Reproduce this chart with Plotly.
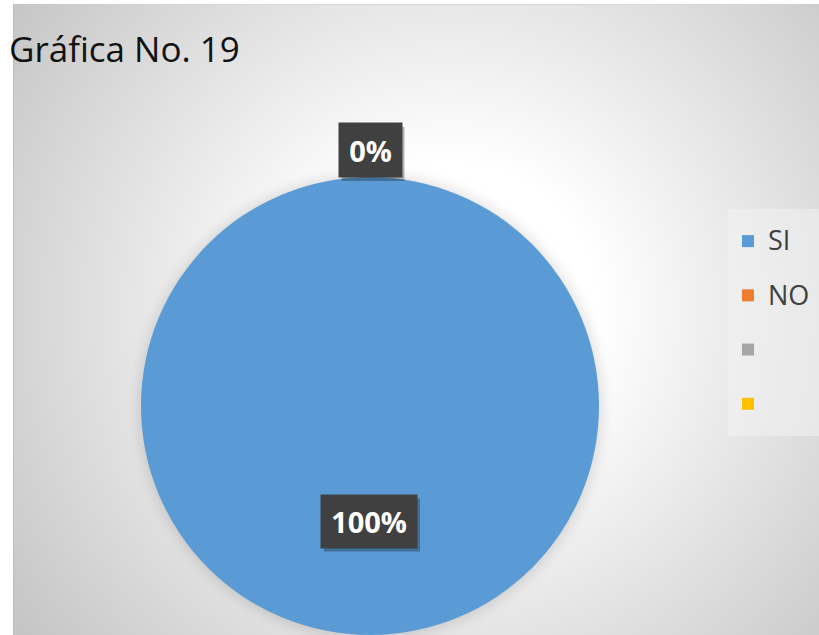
import zlib, struct, base64
import numpy as np
import plotly.graph_objects as go

# ---- data ----
categories = ["SI", "NO", "", ""]
values = [100, 0, 0, 0]
colors = ["#5b9bd5", "#ed7d31", "#a5a5a5", "#ffc000"]
title_text = "Gráfica No. 19"

W, H = 819, 635

# ---- background (radial gradient + soft pie shadow) as an inline PNG ----
bx0, by0 = 13, 4
bw, bh = W - bx0, H - by0
yy, xx = np.mgrid[0:bh, 0:bw].astype(float)
xx += bx0
yy += by0
gx, gy = 450.0, 310.0
d = np.hypot(xx - gx, yy - gy)
frac = np.clip((d - 150) / 390.0, 0, 1)
g = 255 - frac * 58
# pie shadow
pcx, pcy, pr = 370.0, 406.0, 229.0
dp = np.hypot(xx - pcx, yy - pcy) - pr
sh = np.clip(1 - (dp + 2) / 17.0, 0, 1) ** 1.6 * 24
g = g - sh
g[:, 0] = 190
g[0, :] = np.minimum(g[0, :], 215)
arr = np.clip(g, 0, 255).astype(np.uint8)


def png_gray(a):
    h, w = a.shape
    raw = b"".join(b"\x00" + a[i].tobytes() for i in range(h))

    def chunk(t, dd):
        c = struct.pack(">I", len(dd)) + t + dd
        return c + struct.pack(">I", zlib.crc32(t + dd) & 0xFFFFFFFF)

    return (b"\x89PNG\r\n\x1a\n"
            + chunk(b"IHDR", struct.pack(">IIBBBBB", w, h, 8, 0, 0, 0, 0))
            + chunk(b"IDAT", zlib.compress(raw, 9))
            + chunk(b"IEND", b""))


bg_src = "data:image/png;base64," + base64.b64encode(png_gray(arr)).decode()

# legend labels (distinct strings so empty categories are not merged)
leg_labels = [
    f"<span style='font-size:27px;baseline-shift:6px'>{c}</span>" + " " * i
    for i, c in enumerate(categories)
]

fig = go.Figure()
fig.add_trace(go.Pie(
    labels=leg_labels,
    values=values,
    marker=dict(colors=colors, line=dict(width=0)),
    textinfo="none",
    sort=False,
    direction="clockwise",
    rotation=0,
    domain=dict(x=[141 / W, 599 / W], y=[0, 1 - 177 / H]),
    hoverinfo="skip",
))

total = sum(values)
# label boxes: (center x, center y, box width, box height) in pixels
label_box = {0: (369, 521, 96, 53), 1: (370, 150, 63, 54)}
shapes = []
for i, (cx, cy, bwid, bhei) in label_box.items():
    txt = f"<b>{values[i] / total:.0%}</b>"
    px, py = cx / W, 1 - cy / H
    # soft drop shadow behind the box
    shapes.append(dict(type="rect", xref="paper", yref="paper",
                       xsizemode="pixel", ysizemode="pixel",
                       xanchor=px, yanchor=py,
                       x0=-bwid / 2 + 3, x1=bwid / 2 + 3,
                       y0=-bhei / 2 - 4, y1=bhei / 2 - 4,
                       fillcolor="rgba(0,0,0,0.28)", line=dict(width=0),
                       layer="above"))
    fig.add_annotation(x=px, y=py, xref="paper", yref="paper", text=txt,
                       xanchor="center", yanchor="middle",
                       width=bwid, height=bhei, borderpad=0,
                       showarrow=False, font=dict(size=29, color="white",
                                                  family="Open Sans"),
                       bgcolor="#404040")

fig.update_layout(
    width=W, height=H,
    margin=dict(l=0, r=0, t=0, b=0, autoexpand=False),
    paper_bgcolor="white",
    plot_bgcolor="white",
    shapes=shapes,
    images=[dict(source=bg_src, xref="paper", yref="paper",
                 x=bx0 / W, y=1 - by0 / H, sizex=bw / W, sizey=bh / H,
                 xanchor="left", yanchor="top", sizing="stretch",
                 layer="below")],
    title=dict(text=title_text, x=9 / W, xanchor="left", xref="paper",
               y=1 - 50 / H, yanchor="middle", yref="paper",
               font=dict(size=35, color="#111111", family="Open Sans")),
    showlegend=True,
    legend=dict(x=728 / W, y=1 - 209 / H, xanchor="left", yanchor="top",
                bgcolor="rgba(243,243,243,0.55)", borderwidth=0,
                font=dict(size=39.4, color="#404040", family="Open Sans"),
                traceorder="normal"),
)

fig.write_html("out.html")
